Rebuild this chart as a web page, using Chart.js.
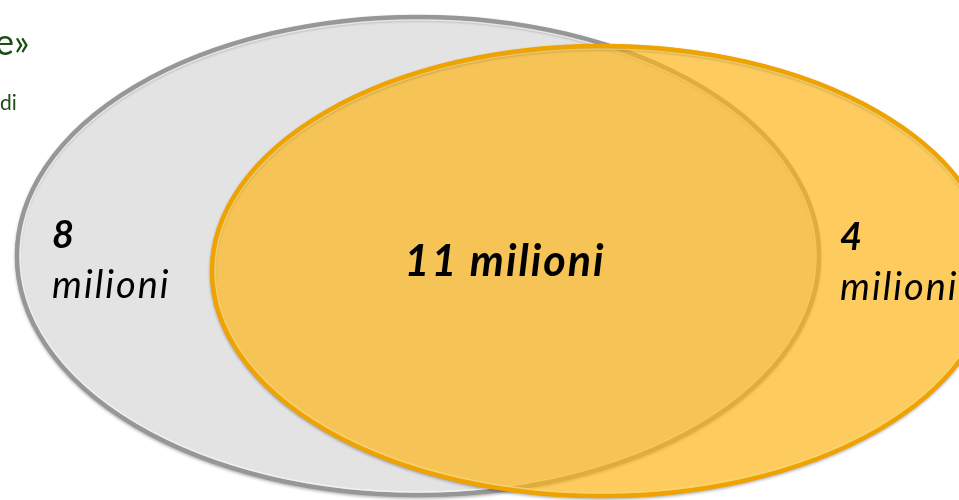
<!DOCTYPE html>
<html>
<head>
<meta charset="utf-8">
<script src="https://cdn.jsdelivr.net/npm/chart.js@4"></script>
<style>
  html, body { margin: 0; padding: 0; background: #ffffff; }
  #wrap { position: relative; width: 959px; height: 500px; }
</style>
</head>
<body>
<div id="wrap"><canvas id="venn"></canvas></div>
<script>
// Values shown in the three regions (millions)
const regionValues = [8, 11, 4];
const regionUnit = 'milioni';
// Which region is drawn on one line
const regionInline = [false, true, false];

// Layout of the two sets, in axis units (axis = 959 x 500)
const setEllipses = [
  { cx: 418, cy: 256, rx: 403, ry: 241, fill: '#e3e3e3', edge: '#979797', shine: '#fbfbfb', alpha: 1 },
  { cx: 602, cy: 271, rx: 392, ry: 227, fill: 'rgb(254,181,26)', edge: '#f0a300', shine: '#f9dc78', alpha: 0.7 }
];
// Label anchors for each region, in axis units
const labelAnchors = [
  { x: 52, y: 236 },
  { x: 505, y: 262 },
  { x: 840, y: 238 }
];

const vennPlugin = {
  id: 'venn',
  beforeDatasetsDraw(chart) {
    const ctx = chart.ctx;
    const xs = chart.scales.x, ys = chart.scales.y;
    setEllipses.forEach(s => {
      const cx = xs.getPixelForValue(s.cx);
      const cy = ys.getPixelForValue(s.cy);
      const rx = Math.abs(xs.getPixelForValue(s.cx + s.rx) - cx);
      const ry = Math.abs(ys.getPixelForValue(s.cy + s.ry) - cy);
      ctx.save();
      ctx.globalAlpha = s.alpha;
      ctx.beginPath();
      ctx.ellipse(cx, cy, rx, ry, 0, 0, Math.PI * 2);
      ctx.fillStyle = s.fill;
      ctx.fill();
      ctx.restore();

      ctx.save();
      // soft shadow on the rim only
      ctx.shadowColor = 'rgba(0,0,0,0.3)';
      ctx.shadowBlur = 3;
      ctx.shadowOffsetY = 1.5;
      ctx.beginPath();
      ctx.ellipse(cx, cy, rx - 2, ry - 2, 0, 0, Math.PI * 2);
      ctx.lineWidth = 4.5;
      ctx.strokeStyle = s.edge;
      ctx.stroke();
      ctx.shadowColor = 'transparent';
      ctx.beginPath();
      ctx.ellipse(cx, cy, rx - 5, ry - 5, 0, 0, Math.PI * 2);
      ctx.lineWidth = 1.5;
      ctx.globalAlpha = 0.7;
      ctx.strokeStyle = s.shine;
      ctx.stroke();
      ctx.restore();
    });
  },
  afterDatasetsDraw(chart) {
    const ctx = chart.ctx;
    const meta = chart.getDatasetMeta(0);
    ctx.save();
    ctx.fillStyle = '#000000';
    ctx.textBaseline = 'middle';
    ctx.letterSpacing = '2px';
    meta.data.forEach((pt, i) => {
      if (regionInline[i]) {
        ctx.textAlign = 'center';
        ctx.font = 'italic bold 43px Lato';
        ctx.fillText(regionValues[i] + ' ' + regionUnit, pt.x, pt.y);
      } else {
        ctx.textAlign = 'left';
        ctx.font = 'italic bold 38px Lato';
        ctx.fillText(String(regionValues[i]), pt.x, pt.y);
        ctx.font = 'italic 38px Lato';
        ctx.fillText(regionUnit, pt.x, pt.y + 50);
      }
    });
    // fragments of the slide text on the left
    ctx.letterSpacing = '0px';
    ctx.fillStyle = '#1b4d14';
    ctx.textAlign = 'left';
    ctx.textBaseline = 'alphabetic';
    ctx.font = '36px Lato';
    ctx.fillText('e\u00bb', -5, 55);
    ctx.font = '21px Lato';
    ctx.fillText('di', 0, 110);
    ctx.restore();
  }
};

new Chart(document.getElementById('venn'), {
  type: 'scatter',
  data: {
    datasets: [{
      label: 'Regioni',
      data: labelAnchors,
      pointRadius: 0,
      pointHoverRadius: 0
    }]
  },
  options: {
    responsive: true,
    maintainAspectRatio: false,
    animation: false,
    layout: { padding: 0 },
    scales: {
      x: { type: 'linear', min: 0, max: 959, display: false },
      y: { type: 'linear', min: 0, max: 500, reverse: true, display: false }
    },
    plugins: {
      legend: { display: false },
      tooltip: { enabled: false }
    }
  },
  plugins: [vennPlugin]
});
</script>
</body>
</html>
